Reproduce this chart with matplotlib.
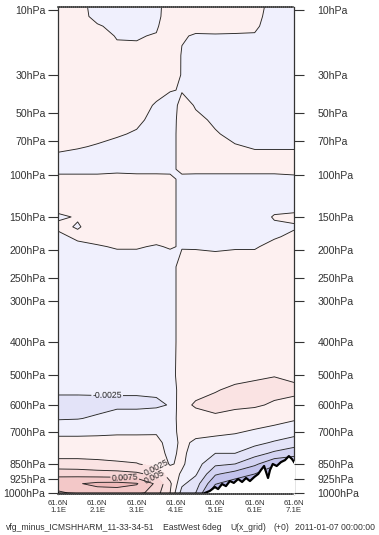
import numpy as np
import matplotlib
matplotlib.use('Agg')
import matplotlib.pyplot as plt
from matplotlib.colors import ListedColormap, BoundaryNorm

plt.rcParams['font.family'] = ['Liberation Sans', 'DejaVu Sans']
plt.rcParams['axes.unicode_minus'] = False
plt.rcParams['contour.negative_linestyle'] = 'solid'

# cross-section columns (deg E along 61.6N) and model pressure rows (hPa)
lon = [1.1, 1.6, 2.1, 2.6, 3.1, 3.6, 3.95, 4.25, 4.6, 5.1, 5.6, 6.1, 6.6, 7.1]
lev = [9, 12, 15, 18, 24, 30, 38, 46, 55, 65, 75, 85, 95, 105, 125, 150, 165,
       180, 195, 230, 300, 400, 500, 550, 600, 650, 700, 750, 800, 850, 900,
       950, 1000, 1015]

# U difference per column, units of 1e-4, top (9 hPa) to bottom (1015 hPa)
u_1p10 = [8, 8, 8, 8, 8, 8, 6, 4, 5, 5, 3, -3, -3, 4, 10, -2, 3, -4, -8, -10, -10, -10,
          -12, -21, -33, -27, -6, 9, 18, 32, 68, 92, 70, 50]
u_1p60 = [8, 8, 8, 8, 8, 8, 7, 6, 5, 4, 1, -4, -3, 4, 10, 1, -1, 3, -4, -9, -10, -10,
          -12, -21, -33, -26, -6, 9, 18, 32, 66, 98, 80, 55]
u_2p10 = [-8, -6, 2, 6, 8, 8, 8, 7, 6, 3, -1, -4, -3, 4, 8, 6, 5, 4, -1, -8, -10, -10,
          -12, -21, -32, -22, -5, 9, 18, 30, 62, 106, 88, 60]
u_2p60 = [-8, -8, -5, -1, 4, 7, 8, 7, 5, 1, -3, -4, -2, 4, 8, 7, 6, 5, 1, -8, -10, -10,
          -12, -22, -30, -14, -3, 8, 17, 28, 60, 107, 90, 60]
u_3p10 = [-8, -7, -4, -1, 3, 6, 6, 4, 2, -1, -4, -4, -2, 3, 8, 7, 6, 5, 1, -8, -10, -10,
          -12, -22, -30, -14, -3, 8, 16, 26, 55, 102, 85, 55]
u_3p60 = [-6, -5, -2, 1, 4, 5, 3, -1, -3, -4, -4, -4, -2, 3, 8, 7, 6, 4, -1, -8, -10, -10,
          -11, -22, -28, -14, -2, 6, 10, 18, 42, 70, 60, 45]
u_3p95 = [10, 10, 10, 10, 10, 9, 1, -8, -9, -9, -8, -6, -3, 4, 8, 8, 8, 6, 1, -8, -10, -10,
          -10, -20, -24, -15, -10, -8, -6, -2, 12, 30, 25, 20]
u_4p25 = [6, 5, 3, 1, -1, -1, -1, 5, 8, 9, 8, 6, 3, -4, -8, -8, -8, -6, -1, 8, 10, 10,
          12, 16, 20, 14, 8, 4, 5, 4, -3, -20, -35, -40]
u_4p60 = [8, 6, 3, -1, -5, -6, -4, -1, 3, 6, 6, 5, 2, -3, -8, -7, -7, -5, -1, 7, 10, 10,
          12, 20, 27, 18, 5, -3, -10, -15, -22, -38, -50, -55]
u_5p10 = [8, 7, 4, -1, -4, -6, -6, -5, -2, 1, 5, 5, 2, -3, -8, -7, -7, -5, -2, 7, 10, 10,
          15, 24, 30, 22, 5, -8, -25, -45, -72, -98, -125, -130]
u_5p60 = [8, 6, 3, -1, -5, -7, -7, -6, -5, -3, 1, 4, 2, -3, -8, -7, -7, -5, -1, 7, 10, 10,
          20, 28, 30, 15, 2, -10, -25, -50, -85, -115, -140, -145]
u_6p10 = [6, 4, 2, -1, -5, -7, -7, -6, -5, -4, -1, 3, 2, -3, -8, -6, -6, -5, -1, 7, 10, 10,
          22, 30, 28, 12, -3, -18, -40, -70, -100, -125, -140, -145]
u_6p60 = [-6, -6, -6, -6, -7, -7, -7, -5, -5, -4, -1, 3, 2, -3, -8, 1, -2, -1, 3, 8, 10, 10,
          24, 32, 22, 8, -8, -28, -55, -95, -120, -130, -135, -135]
u_7p10 = [-6, -6, -6, -6, -6, -6, -5, -4, -4, -3, -1, 3, 3, -3, -8, 2, -1, 2, 5, 8, 10, 10,
          20, 30, 18, 3, -15, -38, -65, -100, -125, -135, -140, -140]

# surface pressure along the section (white below it)
sfc_lon = [1.1, 4.80, 4.96, 5.09, 5.17, 5.27, 5.37, 5.47, 5.57, 5.68, 5.78, 5.88, 5.98,
           6.09, 6.19, 6.26, 6.34, 6.39, 6.44, 6.49, 6.56, 6.66, 6.77, 6.87, 6.97,
           7.05, 7.10]
sfc_p = [1003, 1003, 989, 968, 979, 952, 963, 936, 946, 925, 941, 920, 936,
         915, 900, 880, 860, 890, 920, 880, 850, 860, 841, 832, 813, 827, 841]

p_ticks = [10, 30, 50, 70, 100, 150, 200, 250, 300, 400, 500, 600, 700, 850, 925, 1000]
lon_ticks = [1.1, 2.1, 3.1, 4.1, 5.1, 6.1, 7.1]
lat_label = '61.6N'

# vertical axis follows the model levels: pressure -> screen position
scale_p = [0, 10, 30, 50, 70, 100, 150, 200, 250, 300, 400, 500, 600, 700, 850, 925, 1000, 1100]
scale_y = [-22.5, 10, 75, 113, 141, 175, 217, 250, 278, 301, 342, 375, 405, 432, 464, 479, 493, 511.7]
p_top, p_bottom = 9.1, 1005.4

levels = np.linspace(-0.015, 0.0125, 12)
band_colors = ['#9898d8', '#a6a6de', '#b4b4e5', '#c3c3ec', '#d3d3f2', '#e3e3f8', '#f0f0fd',
               '#fdf0f0', '#fae3e3', '#f7d6d6', '#f3c8c8', '#efbaba', '#eaacac']
label_at = [(2.35, 570), (2.8, 912), (3.55, 918), (3.6, 868)]

caption = ['vfg_minus_ICMSHHARM_11-33-34-51', 'EastWest 6deg', 'U(x_grid)', '(+0)',
           '2011-01-07 00:00:00']
caption_x = [6, 163, 230, 273, 295]


def p_to_y(p):
    return np.interp(p, scale_p, scale_y)


def y_to_p(y):
    return np.interp(y, scale_y, scale_p)


u = np.column_stack([u_1p10, u_1p60, u_2p10, u_2p60, u_3p10, u_3p60, u_3p95,
                     u_4p25, u_4p60, u_5p10, u_5p60, u_6p10, u_6p60, u_7p10]) * 1e-4

W, H = 379, 535
fig = plt.figure(figsize=(W / 100, H / 100), dpi=100)
ax = fig.add_axes([58 / W, 1 - 494 / H, 236 / W, 487 / H])
ax.set_yscale('function', functions=(p_to_y, y_to_p))

cmap = ListedColormap(band_colors[1:-1])
cmap.set_under(band_colors[0])
cmap.set_over(band_colors[-1])
norm = BoundaryNorm(levels, cmap.N)
ax.contourf(lon, lev, u, levels=levels, cmap=cmap, norm=norm, extend='both')
cs = ax.contour(lon, lev, u, levels=levels, colors='#262626', linewidths=0.65)
ax.clabel(cs, fmt=lambda v: f'{v:g}', fontsize=6.3, manual=label_at, inline=True,
          inline_spacing=1)

# terrain
ax.fill_between(sfc_lon, sfc_p, p_bottom, color='white', zorder=3)
ax.plot(sfc_lon, sfc_p, color='black', lw=1.6, zorder=4)

ax.set_xlim(1.1, 7.1)
ax.set_ylim(p_bottom, p_top)
ax.set_xticks(lon_ticks)
ax.set_xticklabels([f'{lat_label}\n{x:.1f}E' for x in lon_ticks], fontsize=5.6,
                   color='#333333', linespacing=1.0)
ax.tick_params(axis='x', length=0, pad=4)

p_labels = [f'{p}hPa' for p in p_ticks]
ax.set_yticks(p_ticks)
ax.set_yticklabels(p_labels, fontsize=7.6, color='#333333')
ax.tick_params(axis='y', length=7, width=0.8, color='#333333', pad=2)
ax.minorticks_off()

ax2 = ax.twinx()
ax2.set_yscale('function', functions=(p_to_y, y_to_p))
ax2.set_ylim(p_bottom, p_top)
ax2.set_yticks(p_ticks)
ax2.set_yticklabels(p_labels, fontsize=7.6, color='#333333')
ax2.tick_params(axis='y', length=7, width=0.8, color='#333333', pad=10)
ax2.minorticks_off()
for s in ax2.spines.values():
    s.set_visible(False)

for side in ['left', 'right']:
    ax.spines[side].set_color('#333333')
    ax.spines[side].set_linewidth(0.9)
for side in ['top', 'bottom']:
    ax.spines[side].set_linestyle((0, (0.6, 0.6)))
    ax.spines[side].set_linewidth(1.2)
    ax.spines[side].set_color('#444444')
    ax.spines[side].set_zorder(5)

for text, x in zip(caption, caption_x):
    fig.text(x / W, 1 - 527 / H, text, fontsize=6.2, color='#333333', ha='left', va='center')

fig.savefig('out.png', dpi=100)
